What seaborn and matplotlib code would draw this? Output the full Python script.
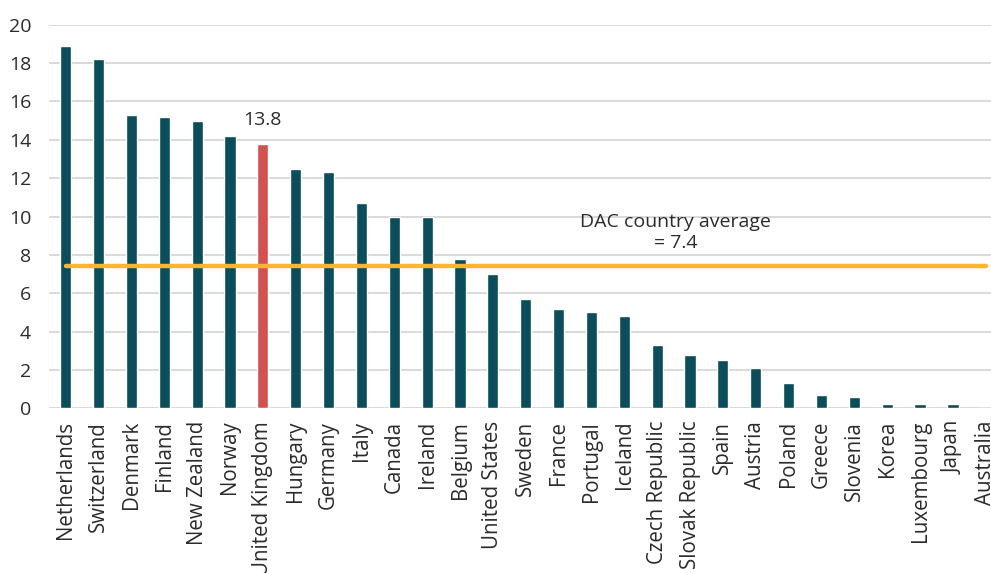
import numpy as np
import pandas as pd
import matplotlib
matplotlib.use("Agg")
import matplotlib.pyplot as plt
import seaborn as sns

countries = ["Netherlands", "Switzerland", "Denmark", "Finland", "New Zealand",
             "Norway", "United Kingdom", "Hungary", "Germany", "Italy", "Canada",
             "Ireland", "Belgium", "United States", "Sweden", "France", "Portugal",
             "Iceland", "Czech Republic", "Slovak Republic", "Spain", "Austria",
             "Poland", "Greece", "Slovenia", "Korea", "Luxembourg", "Japan", "Australia"]
values = [18.9, 18.2, 15.3, 15.2, 15.0, 14.2, 13.8, 12.5, 12.3, 10.7, 10.0,
          10.0, 7.8, 7.0, 5.7, 5.2, 5.0, 4.8, 3.3, 2.8, 2.5, 2.1,
          1.3, 0.7, 0.6, 0.2, 0.2, 0.2, 0.0]
highlight = "United Kingdom"
dac_average = 7.4
y_ticks = [0, 2, 4, 6, 8, 10, 12, 14, 16, 18, 20]

TEAL = "#0b4d5a"
RED = "#d05350"
ORANGE = "#fbb531"
TEXT = "#2b2b2b"
GRID = "#d9d9d9"

sns.set_theme(style="white")
plt.rcParams["font.family"] = ["Open Sans", "DejaVu Sans"]

df = pd.DataFrame({"country": countries, "value": values})
palette = {c: (RED if c == highlight else TEAL) for c in countries}

W, H = 991, 573
fig = plt.figure(figsize=(W / 100, H / 100), dpi=100)
n = len(countries)
step = 32.86
left_px = 65.7 - 0.5 * step
ax = fig.add_axes([left_px / W, (H - 408.3) / H, n * step / W, 383.6 / H])

sns.barplot(data=df, x="country", y="value", hue="country", palette=palette,
            width=0.34, legend=False, ax=ax, saturation=1)

# DAC average line spanning all countries
ax.plot(np.arange(n), np.full(n, dac_average), color=ORANGE, lw=3.2,
        solid_capstyle="round", zorder=3)

ax.set_ylim(0, 20)
ax.set_xlim(-0.5, n - 0.5)
ax.set_yticks(y_ticks)
ax.set_yticklabels([str(t) for t in y_ticks])
ax.yaxis.grid(True, color=GRID, lw=1.4)
ax.set_axisbelow(True)
for s in ax.spines.values():
    s.set_visible(False)
ax.set_xlabel("")
ax.set_ylabel("")
ax.tick_params(axis="y", length=0, pad=13, labelsize=14, labelcolor=TEXT)
ax.tick_params(axis="x", length=0, pad=9, labelsize=14.8, labelcolor=TEXT,
               labelrotation=90)

hi = countries.index(highlight)
ax.text(hi, values[hi] + 0.75, f"{values[hi]:.1f}", ha="center", va="bottom",
        fontsize=14, color=TEXT)
ax.text(18.55, dac_average + 0.75, f"DAC country average\n= {dac_average}",
        ha="center", va="bottom", fontsize=14, color=TEXT, linespacing=1.2)

fig.savefig("out.png", dpi=100)
